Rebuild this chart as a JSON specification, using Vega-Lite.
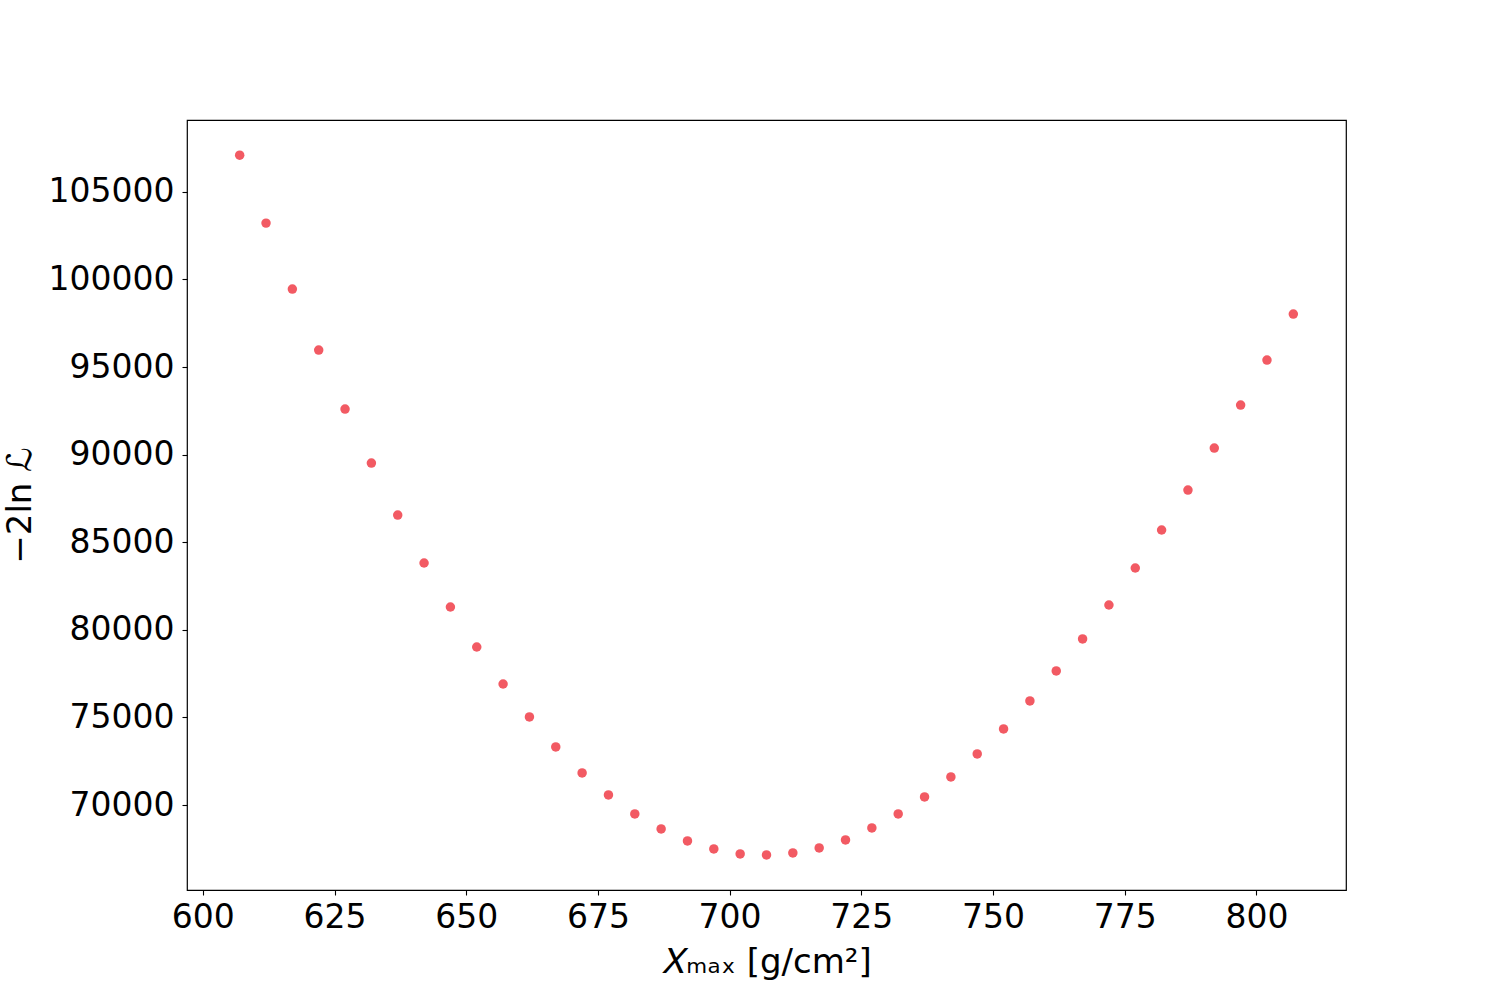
{
  "$schema": "https://vega.github.io/schema/vega-lite/v6.json",
  "width": 1159,
  "height": 770,
  "autosize": {"type": "none"},
  "padding": {"left": 187, "top": 120, "right": 149, "bottom": 110},
  "background": "white",
  "config": {
    "font": "DejaVu Sans",
    "view": {"stroke": "black", "strokeWidth": 1.2},
    "axis": {
      "grid": false,
      "domain": false,
      "ticks": true,
      "tickSize": 5,
      "tickWidth": 1.1,
      "tickColor": "black",
      "labelFont": "DejaVu Sans",
      "labelFontSize": 33,
      "labelColor": "black",
      "titleFont": "DejaVu Sans",
      "titleFontSize": 34,
      "titleFontWeight": "normal",
      "titleColor": "black"
    }
  },
  "data": {
    "values": [
      {"xmax": 607, "nll": 107094},
      {"xmax": 612, "nll": 103214},
      {"xmax": 617, "nll": 99448},
      {"xmax": 622, "nll": 95967},
      {"xmax": 627, "nll": 92601},
      {"xmax": 632, "nll": 89520},
      {"xmax": 637, "nll": 86552},
      {"xmax": 642, "nll": 83814},
      {"xmax": 647, "nll": 81303},
      {"xmax": 652, "nll": 79021},
      {"xmax": 657, "nll": 76909},
      {"xmax": 662, "nll": 75026},
      {"xmax": 667, "nll": 73315},
      {"xmax": 672, "nll": 71831},
      {"xmax": 677, "nll": 70576},
      {"xmax": 682, "nll": 69492},
      {"xmax": 687, "nll": 68636},
      {"xmax": 692, "nll": 67951},
      {"xmax": 697, "nll": 67494},
      {"xmax": 702, "nll": 67209},
      {"xmax": 707, "nll": 67152},
      {"xmax": 712, "nll": 67266},
      {"xmax": 717, "nll": 67551},
      {"xmax": 722, "nll": 68008},
      {"xmax": 727, "nll": 68692},
      {"xmax": 732, "nll": 69492},
      {"xmax": 737, "nll": 70462},
      {"xmax": 742, "nll": 71603},
      {"xmax": 747, "nll": 72915},
      {"xmax": 752, "nll": 74342},
      {"xmax": 757, "nll": 75940},
      {"xmax": 762, "nll": 77652},
      {"xmax": 767, "nll": 79478},
      {"xmax": 772, "nll": 81418},
      {"xmax": 777, "nll": 83529},
      {"xmax": 782, "nll": 85697},
      {"xmax": 787, "nll": 87979},
      {"xmax": 792, "nll": 90375},
      {"xmax": 797, "nll": 92829},
      {"xmax": 802, "nll": 95397},
      {"xmax": 807, "nll": 98022}
    ]
  },
  "mark": {"type": "circle", "color": "#f25a63", "opacity": 1, "size": 90},
  "encoding": {
    "x": {
      "field": "xmax",
      "type": "quantitative",
      "scale": {"domain": [597, 817], "nice": false, "zero": false},
      "axis": {
        "title": "𝑋ₘₐₓ [g/cm²]",
        "values": [600, 625, 650, 675, 700, 725, 750, 775, 800],
        "format": "d",
        "labelPadding": 6,
        "titlePadding": 11
      }
    },
    "y": {
      "field": "nll",
      "type": "quantitative",
      "scale": {"domain": [65150, 109100], "nice": false, "zero": false},
      "axis": {
        "title": "−2ln ℒ",
        "values": [70000, 75000, 80000, 85000, 90000, 95000, 100000, 105000],
        "format": "d",
        "labelPadding": 8,
        "titlePadding": 11
      }
    }
  }
}
